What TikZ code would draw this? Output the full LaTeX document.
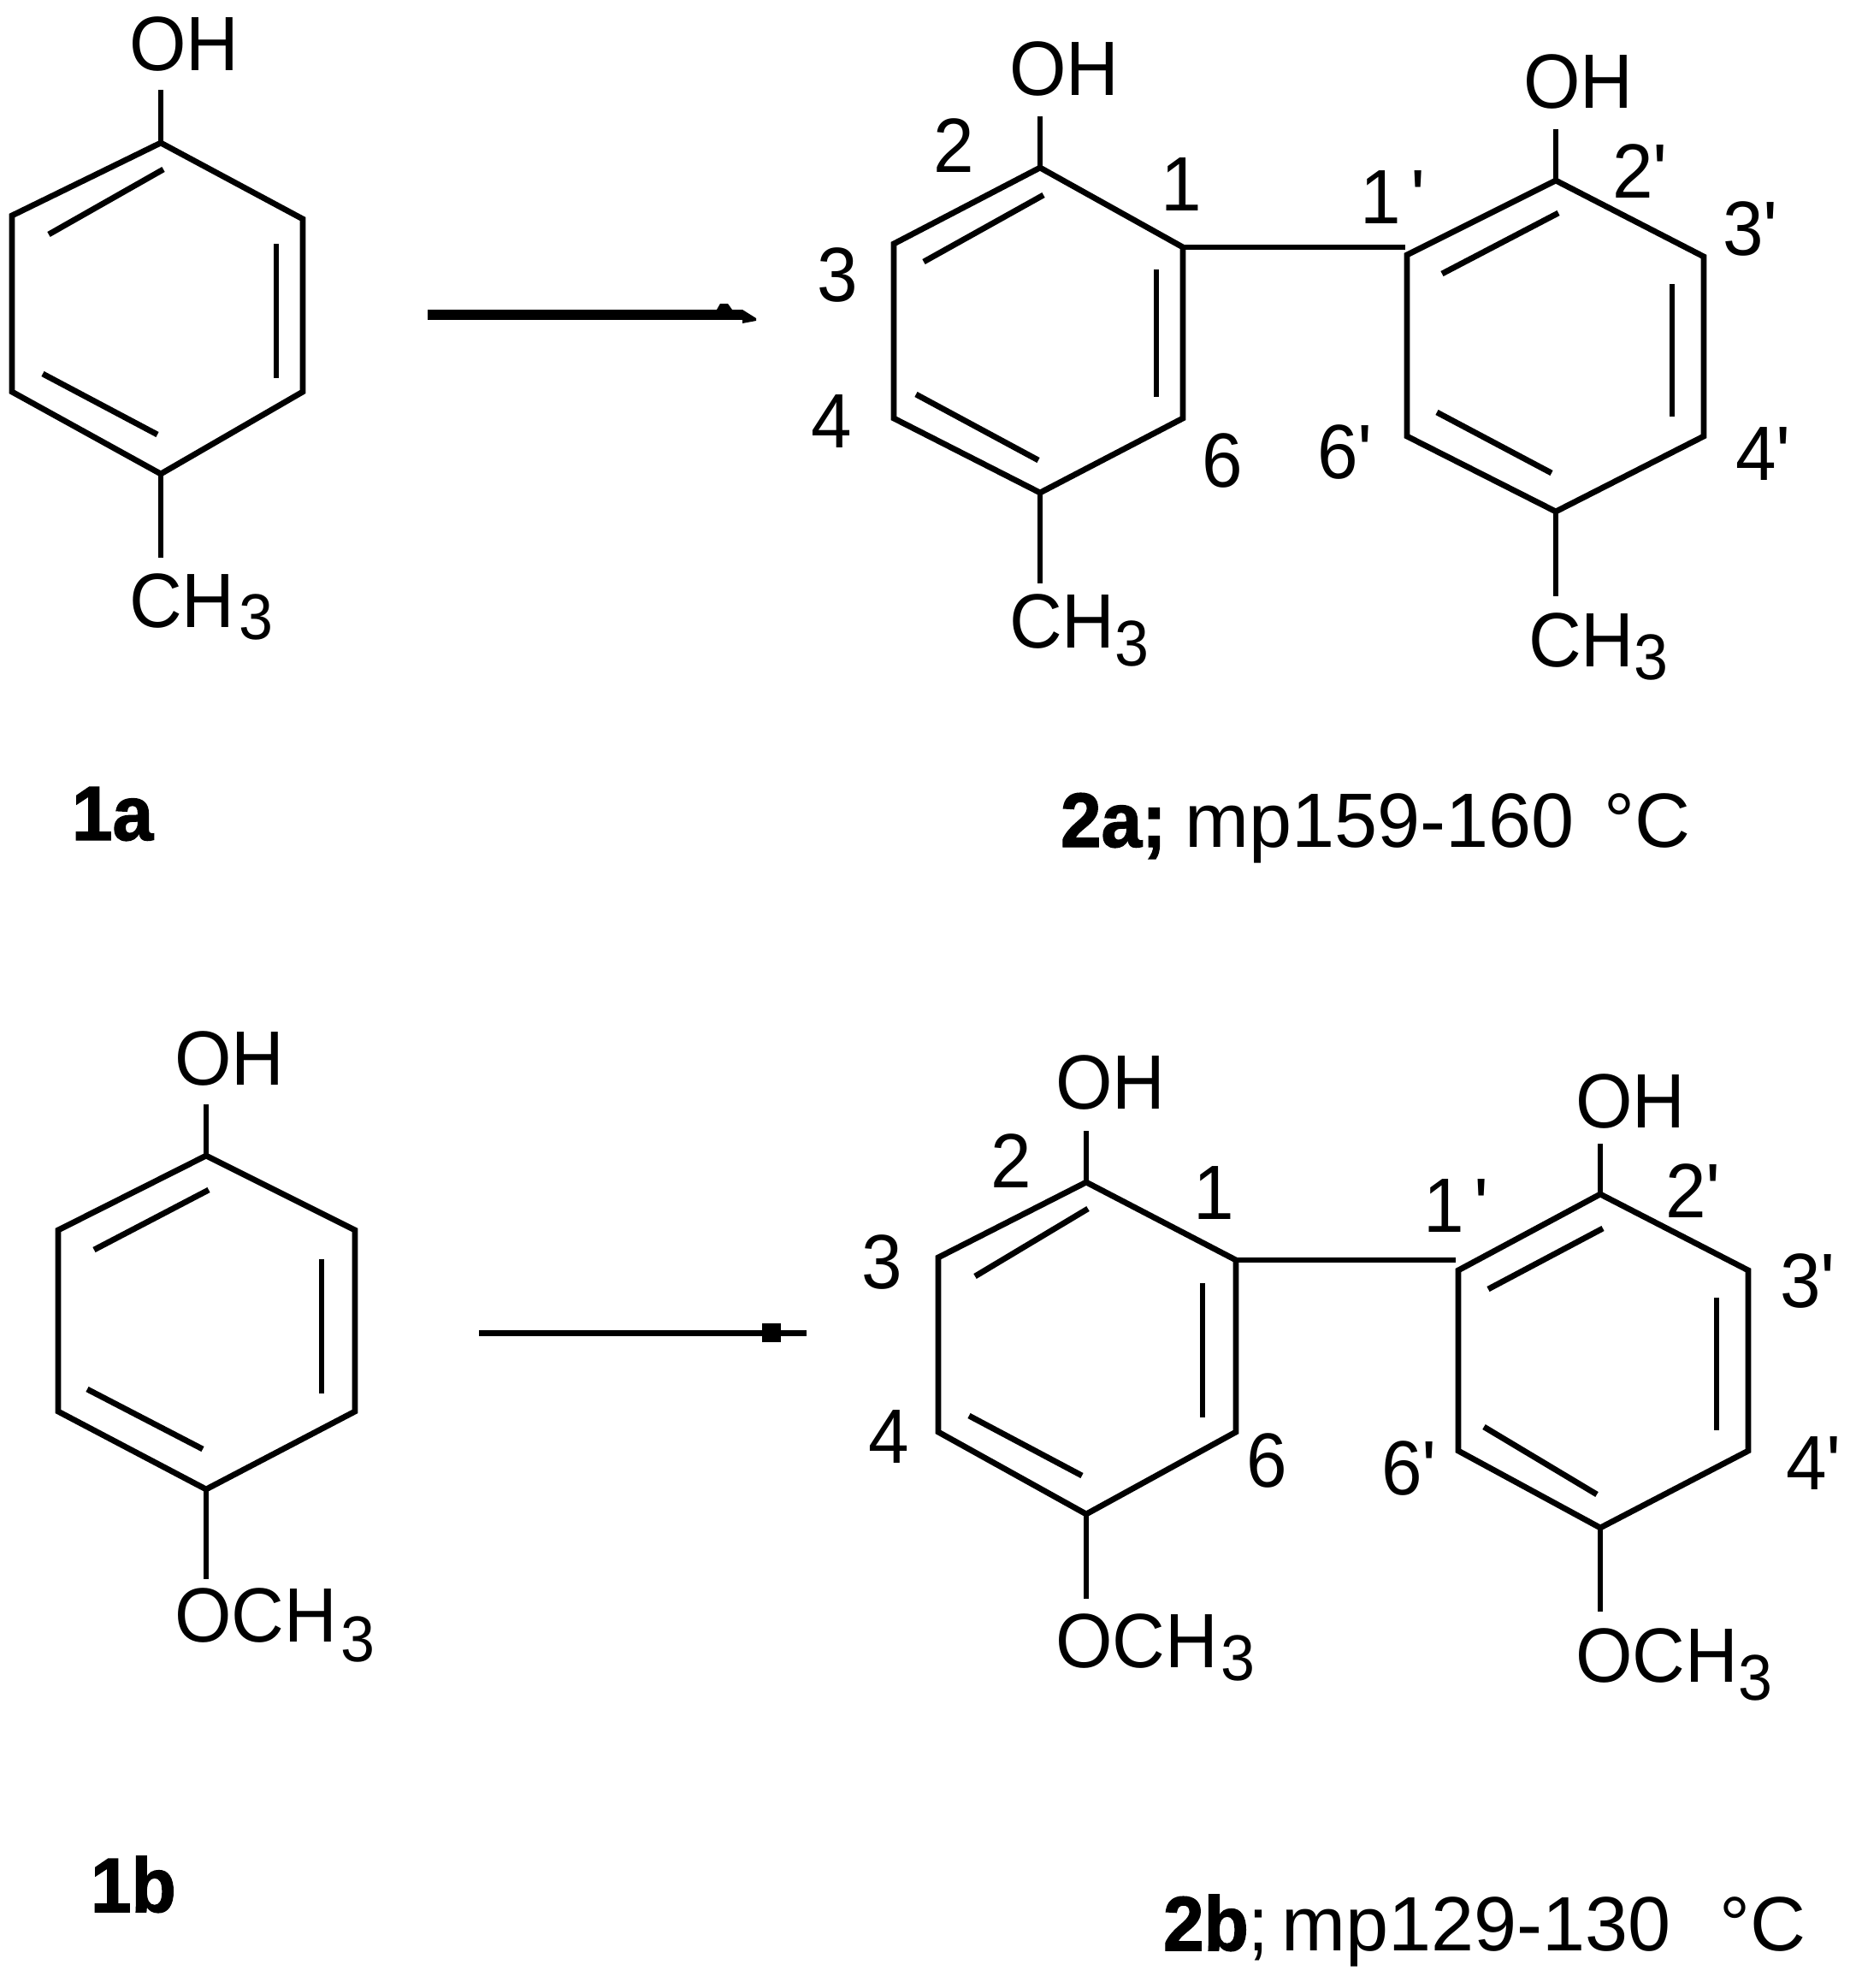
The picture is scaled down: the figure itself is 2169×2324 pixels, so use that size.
\documentclass[tikz,border=0pt]{standalone}
\usepackage{fontspec}
\usepackage{graphicx}
\setmainfont[FakeStretch=0.95,BoldFeatures={FakeBold=1.6}]{Liberation Sans}
\newfontfamily\mpf{Liberation Sans}
\newcommand{\subthree}[2]{\kern#2\raisebox{-#1}{\fontsize{21.5pt}{22pt}\selectfont 3}}
\newcommand{\pr}{{\mpf\char"27 }}
\tikzset{
  x=0.01cm,y=-0.01cm,
  bond/.style={line width=0.068cm,black,line cap=butt,line join=miter},
  lab/.style={anchor=base west,inner sep=0pt,outer sep=0pt,text=black,font=\fontsize{25.6pt}{30pt}\selectfont},
  cmpd/.style={lab,font=\fontsize{25.6pt}{30pt}\selectfont},
  arrowline/.style={black,line cap=butt}
}
\begin{document}
\begin{tikzpicture}
\path[use as bounding box,fill=white] (0,0) rectangle (2169,2324);

% ---------- 1a
\coordinate (pa1) at (188,167);
\coordinate (pa2) at (14,252);
\coordinate (pa3) at (14,458);
\coordinate (pa4) at (188,554);
\coordinate (pa5) at (354,458);
\coordinate (pa6) at (354,256);
\coordinate (paoh) at (188,105);
\coordinate (pame) at (188,652);
\coordinate (pai1) at (191,198);
\coordinate (pai2) at (57,274);
\coordinate (pai3) at (323,285);
\coordinate (pai4) at (323,442);
\coordinate (pai5) at (50,437);
\coordinate (pai6) at (184,508);
\draw[bond] (pa1)--(pa2)--(pa3)--(pa4)--(pa5)--(pa6)--cycle;
\draw[bond] (paoh)--(pa1);
\draw[bond] (pa4)--(pame);
\draw[bond] (pai1)--(pai2);
\draw[bond] (pai3)--(pai4);
\draw[bond] (pai5)--(pai6);
\node[lab] (t1aoh) at (151,82) {OH};
\node[lab] (t1ame) at (151,733) {CH\subthree{0.14cm}{0.05cm}};
\node[lab] (t1a) at (84,982) {\bfseries 1a};

% arrow 1
\coordinate (ar1a) at (500,368);
\coordinate (ar1b) at (868,368);
\coordinate (ar1c) at (884,372);
\draw[arrowline,line width=0.12cm] (ar1a)--(ar1b);
\fill[black] (ar1b) ++(0,-6) -- (ar1c) -- ++(0,3) -- ++(-16,3) -- cycle;
\fill[black] (ar1b) ++(-30,-6) -- ++(4,-7) -- ++(9,0) -- ++(5,7) -- cycle;

% ---------- 2a left ring
\coordinate (la1) at (1216,196);
\coordinate (la2) at (1045,285);
\coordinate (la3) at (1045,489);
\coordinate (la4) at (1216,576);
\coordinate (la5) at (1383,489);
\coordinate (la6) at (1383,289);
\coordinate (laoh) at (1216,136);
\coordinate (lame) at (1216,682);
\coordinate (lai1) at (1220,228);
\coordinate (lai2) at (1080,306);
\coordinate (lai3) at (1352,315);
\coordinate (lai4) at (1352,464);
\coordinate (lai5) at (1071,461);
\coordinate (lai6) at (1214,538);
\draw[bond] (la1)--(la2)--(la3)--(la4)--(la5)--(la6)--cycle;
\draw[bond] (laoh)--(la1);
\draw[bond] (la4)--(lame);
\draw[bond] (lai1)--(lai2);
\draw[bond] (lai3)--(lai4);
\draw[bond] (lai5)--(lai6);
% 2a right ring
\coordinate (ra1) at (1819,211);
\coordinate (ra2) at (1645,298);
\coordinate (ra3) at (1645,510);
\coordinate (ra4) at (1819,598);
\coordinate (ra5) at (1992,510);
\coordinate (ra6) at (1992,300);
\coordinate (raoh) at (1819,151);
\coordinate (rame) at (1819,697);
\coordinate (rai1) at (1822,249);
\coordinate (rai2) at (1686,320);
\coordinate (rai3) at (1955,332);
\coordinate (rai4) at (1955,487);
\coordinate (rai5) at (1680,482);
\coordinate (rai6) at (1814,553);
\coordinate (bia) at (1643,289);
\draw[bond] (ra1)--(ra2)--(ra3)--(ra4)--(ra5)--(ra6)--cycle;
\draw[bond] (raoh)--(ra1);
\draw[bond] (ra4)--(rame);
\draw[bond] (rai1)--(rai2);
\draw[bond] (rai3)--(rai4);
\draw[bond] (rai5)--(rai6);
\draw[bond] (la6)--(bia);
% 2a labels
\node[lab] (t2aoh) at (1180,111) {OH};
\node[lab] (t2aoh2) at (1781,126) {OH};
\node[lab] (t2ame) at (1180,757) {CH\subthree{0.21cm}{0cm}};
\node[lab] (t2ame2) at (1787,779) {CH\subthree{0.15cm}{0cm}};
\node[lab] (n2a2) at (1091,201) {2};
\node[lab] (n2a1) at (1357,246) {1};
\node[lab] (n2a3) at (955,352) {3};
\node[lab] (n2a4) at (948,523) {4};
\node[lab] (n2a6) at (1405,569) {6};
\node[lab] (n2a1p) at (1590,261) {1\kern0.12cm\pr};
\node[lab] (n2a2p) at (1885,231) {2\pr};
\node[lab] (n2a3p) at (2014,298) {3\pr};
\node[lab] (n2a6p) at (1540,559) {6\pr};
\node[lab] (n2a4p) at (2029,561) {4\pr};
\node[cmpd] (t2a) at (1240,990) {\makebox[1.45cm][l]{\bfseries 2a;}\mpf\makebox[4.9cm][l]{mp159-160}°C};

% ---------- 1b
\coordinate (pb1) at (241,1351);
\coordinate (pb2) at (68,1438);
\coordinate (pb3) at (68,1650);
\coordinate (pb4) at (241,1741);
\coordinate (pb5) at (415,1650);
\coordinate (pb6) at (415,1438);
\coordinate (pboh) at (241,1291);
\coordinate (pbme) at (241,1846);
\coordinate (pbi1) at (244,1391);
\coordinate (pbi2) at (110,1461);
\coordinate (pbi3) at (376,1472);
\coordinate (pbi4) at (376,1629);
\coordinate (pbi5) at (102,1624);
\coordinate (pbi6) at (237,1694);
\draw[bond] (pb1)--(pb2)--(pb3)--(pb4)--(pb5)--(pb6)--cycle;
\draw[bond] (pboh)--(pb1);
\draw[bond] (pb4)--(pbme);
\draw[bond] (pbi1)--(pbi2);
\draw[bond] (pbi3)--(pbi4);
\draw[bond] (pbi5)--(pbi6);
\node[lab] (t1boh) at (204,1268) {OH};
\node[lab] (t1bme) at (204,1919) {OCH\subthree{0.23cm}{0.04cm}};
\node[lab] (t1b) at (106,2235) {\bfseries 1b};

% arrow 2
\coordinate (ar2a) at (560,1558);
\coordinate (ar2b) at (943,1558);
\coordinate (ar2c) at (902,1558);
\draw[arrowline,line width=0.07cm] (ar2a)--(ar2b);
\node[fill=black,inner sep=0pt,minimum size=0.22cm] (ar2s) at (ar2c) {};

% ---------- 2b left ring
\coordinate (lb1) at (1270,1382);
\coordinate (lb2) at (1097,1470);
\coordinate (lb3) at (1097,1674);
\coordinate (lb4) at (1270,1770);
\coordinate (lb5) at (1445,1674);
\coordinate (lb6) at (1445,1473);
\coordinate (lboh) at (1270,1322);
\coordinate (lbme) at (1270,1869);
\coordinate (lbi1) at (1272,1413);
\coordinate (lbi2) at (1140,1492);
\coordinate (lbi3) at (1406,1500);
\coordinate (lbi4) at (1406,1657);
\coordinate (lbi5) at (1133,1655);
\coordinate (lbi6) at (1265,1725);
\draw[bond] (lb1)--(lb2)--(lb3)--(lb4)--(lb5)--(lb6)--cycle;
\draw[bond] (lboh)--(lb1);
\draw[bond] (lb4)--(lbme);
\draw[bond] (lbi1)--(lbi2);
\draw[bond] (lbi3)--(lbi4);
\draw[bond] (lbi5)--(lbi6);
% 2b right ring
\coordinate (rb1) at (1871,1396);
\coordinate (rb2) at (1705,1485);
\coordinate (rb3) at (1705,1696);
\coordinate (rb4) at (1871,1786);
\coordinate (rb5) at (2044,1696);
\coordinate (rb6) at (2044,1485);
\coordinate (rboh) at (1871,1337);
\coordinate (rbme) at (1871,1884);
\coordinate (rbi1) at (1874,1436);
\coordinate (rbi2) at (1740,1507);
\coordinate (rbi3) at (2007,1517);
\coordinate (rbi4) at (2007,1672);
\coordinate (rbi5) at (1735,1668);
\coordinate (rbi6) at (1867,1747);
\coordinate (bib) at (1702,1473);
\draw[bond] (rb1)--(rb2)--(rb3)--(rb4)--(rb5)--(rb6)--cycle;
\draw[bond] (rboh)--(rb1);
\draw[bond] (rb4)--(rbme);
\draw[bond] (rbi1)--(rbi2);
\draw[bond] (rbi3)--(rbi4);
\draw[bond] (rbi5)--(rbi6);
\draw[bond] (lb6)--(bib);
% 2b labels
\node[lab] (t2boh) at (1234,1296) {OH};
\node[lab] (t2boh2) at (1842,1318) {OH};
\node[lab] (t2bme) at (1234,1949) {OCH\subthree{0.15cm}{0.03cm}};
\node[lab] (t2bme2) at (1842,1966) {OCH\subthree{0.21cm}{0cm}};
\node[lab] (n2b2) at (1158,1388) {2};
\node[lab] (n2b1) at (1395,1425) {1};
\node[lab] (n2b3) at (1007,1506) {3};
\node[lab] (n2b4) at (1015,1710) {4};
\node[lab] (n2b6) at (1457,1738) {6};
\node[lab] (n2b1p) at (1664,1440) {1\kern0.12cm\pr};
\node[lab] (n2b2p) at (1947,1423) {2\pr};
\node[lab] (n2b3p) at (2081,1528) {3\pr};
\node[lab] (n2b6p) at (1615,1747) {6\pr};
\node[lab] (n2b4p) at (2088,1741) {4\pr};
\node[cmpd] (t2b) at (1360,2280) {\makebox[1.38cm][l]{{\bfseries 2b};}\mpf\makebox[5.12cm][l]{mp129-130}°C};
\end{tikzpicture}
\end{document}
